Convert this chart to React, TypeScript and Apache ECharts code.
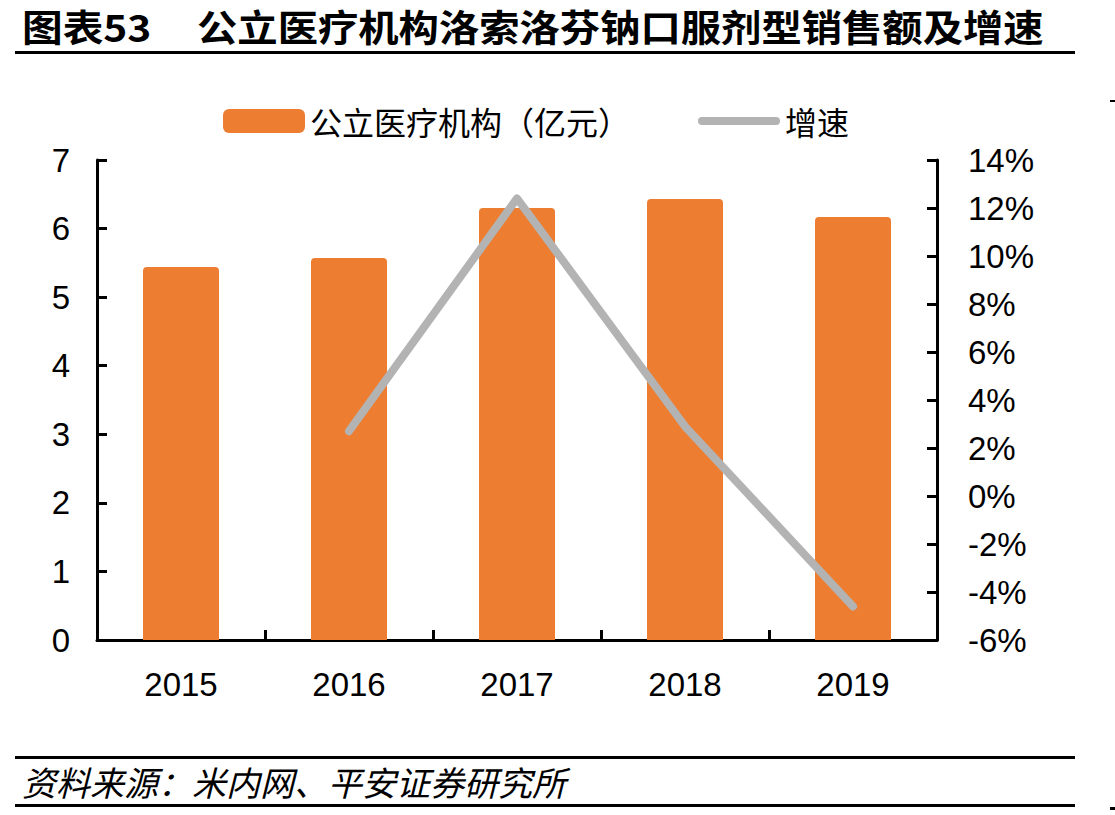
import React, { useEffect, useRef } from "react";
import * as echarts from "echarts";

const years = ["2015", "2016", "2017", "2018", "2019"];
const salesValues = [5.44, 5.57, 6.3, 6.43, 6.17];
const growthValues: (number | null)[] = [null, 2.7, 12.4, 2.9, -4.6];
const barName = "公立医疗机构（亿元）";
const lineName = "增速";
const titleLabel = "图表53";
const titleText = "公立医疗机构洛索洛芬钠口服剂型销售额及增速";
const sourceText = "资料来源：米内网、平安证券研究所";

const CJK = '"Noto Sans CJK SC", "Noto Sans", sans-serif';
const NUM = '"Liberation Sans", Arial, sans-serif';

export default function App() {
  const ref = useRef<HTMLDivElement>(null);
  useEffect(() => {
    if (!ref.current) return;
    const chart = echarts.init(ref.current, null, { renderer: "svg" });
    const axisLine = { show: true, lineStyle: { color: "#000", width: 3 } };
    const axisTick = { show: true, inside: true, length: 10, lineStyle: { color: "#000", width: 3 } };
    chart.setOption({
      animation: false,
      backgroundColor: "#fff",
      grid: { left: 97, right: 178, top: 160, bottom: 175 },
      legend: {
        left: 218,
        top: 100,
        itemWidth: 82,
        itemHeight: 24,
        itemGap: 68,
        symbolKeepAspect: true,
        textStyle: { fontSize: 32, fontFamily: CJK, color: "#000", padding: [0, 0, 0, 0] },
        data: [
          { name: barName, icon: "roundRect" },
          {
            name: lineName,
            icon: "path://M4,0 L78,0 A4,4 0 0 1 78,8 L4,8 A4,4 0 0 1 4,0 Z",
          },
        ],
      },
      xAxis: {
        type: "category",
        data: years,
        axisLine,
        axisTick: { ...axisTick, alignWithLabel: false },
        axisLabel: { fontSize: 33, fontFamily: NUM, color: "#000", margin: 28 },
      },
      yAxis: [
        {
          type: "value",
          min: 0,
          max: 7,
          interval: 1,
          axisLine,
          axisTick,
          splitLine: { show: false },
          axisLabel: { fontSize: 33, fontFamily: NUM, color: "#000", margin: 27 },
        },
        {
          type: "value",
          min: -6,
          max: 14,
          interval: 2,
          position: "right",
          axisLine,
          axisTick,
          splitLine: { show: false },
          axisLabel: { fontSize: 33, fontFamily: NUM, color: "#000", margin: 31, formatter: "{value}%" },
        },
      ],
      series: [
        {
          name: barName,
          type: "bar",
          data: salesValues,
          barWidth: 76,
          itemStyle: { color: "#ED7D31", borderRadius: [4, 4, 0, 0] },
        },
        {
          name: lineName,
          type: "line",
          yAxisIndex: 1,
          data: growthValues,
          symbol: "none",
          connectNulls: false,
          lineStyle: { color: "#B3B3B3", width: 8, cap: "round", join: "round" },
          itemStyle: { color: "#B3B3B3" },
        },
      ],
      graphic: [
        {
          type: "text",
          x: 22,
          y: 26,
          scaleX: 1.1,
          style: {
            text: titleLabel,
            font: `bold 37px ${CJK}`,
            fill: "#000",
            verticalAlign: "middle",
          },
        },
        {
          type: "text",
          x: 197,
          y: 26,
          scaleX: 1.09,
          style: {
            text: titleText,
            font: `bold 37px ${CJK}`,
            fill: "#000",
            verticalAlign: "middle",
          },
        },
        { type: "rect", shape: { x: 15, y: 51, width: 1060, height: 3 }, style: { fill: "#000" } },
        { type: "rect", shape: { x: 15, y: 756, width: 1060, height: 3 }, style: { fill: "#000" } },
        { type: "rect", shape: { x: 15, y: 804, width: 1060, height: 3 }, style: { fill: "#000" } },
        { type: "rect", shape: { x: 1110, y: 100, width: 5, height: 2 }, style: { fill: "#000" } },
        { type: "rect", shape: { x: 1110, y: 807, width: 5, height: 3 }, style: { fill: "#000" } },
        {
          type: "text",
          left: 22,
          top: 764,
          style: { text: sourceText, font: `italic 34px ${CJK}`, fill: "#000" },
        },
      ],
    });
    return () => chart.dispose();
  }, []);
  return (
    <div
      ref={ref}
      style={{ position: "fixed", left: 0, top: 0, width: 1115, height: 815, background: "#fff" }}
    />
  );
}
